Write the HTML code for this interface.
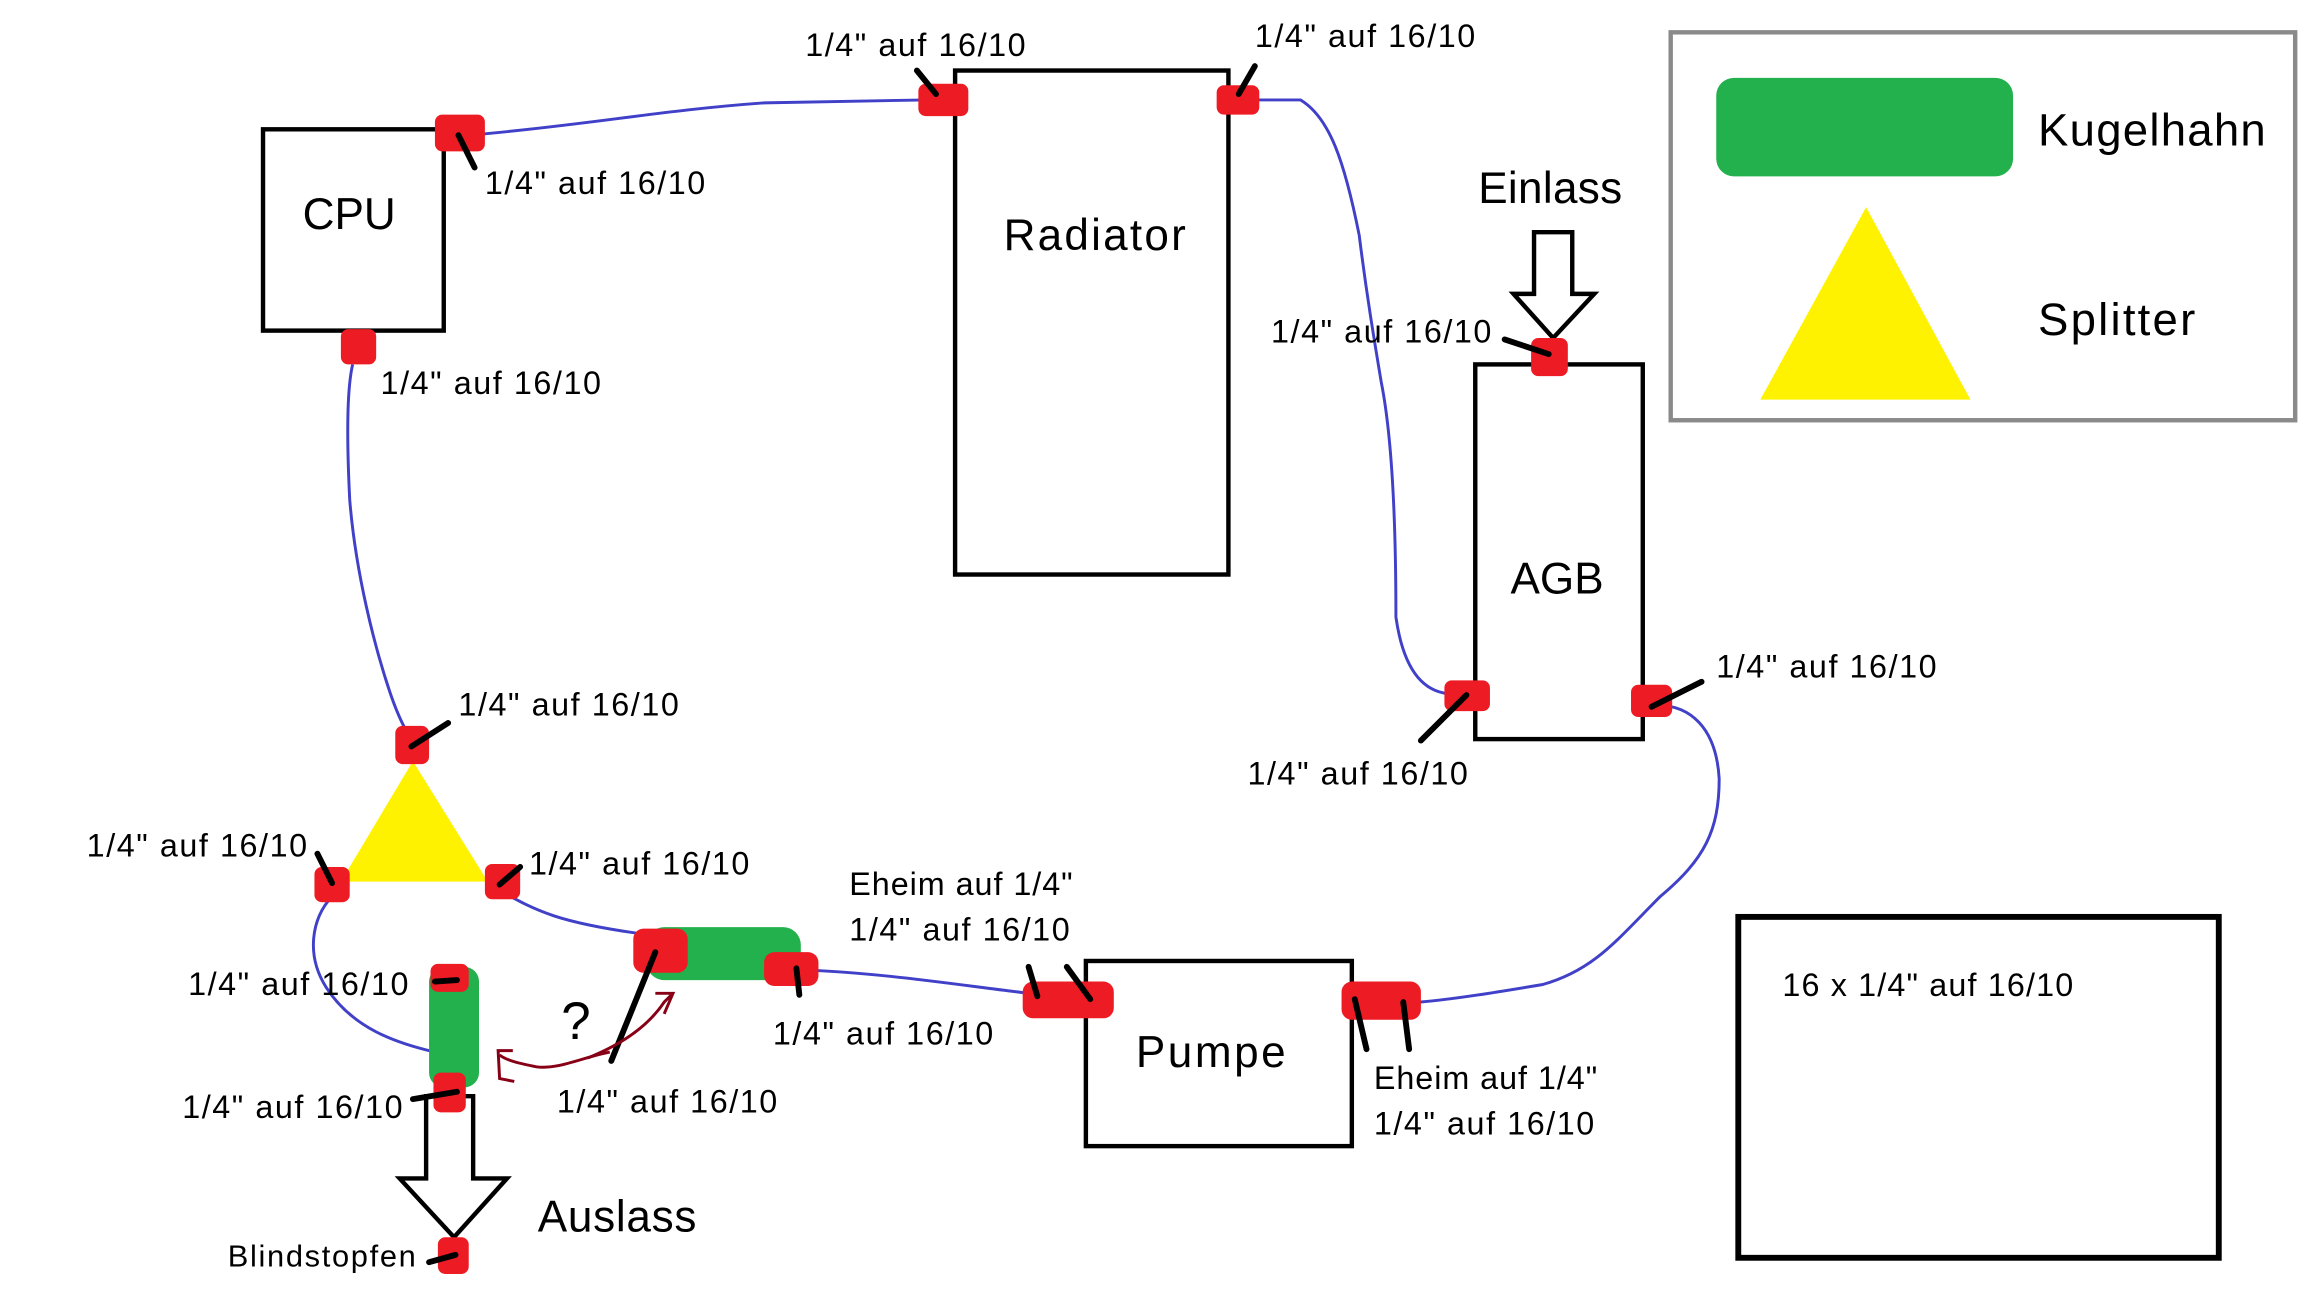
<!DOCTYPE html>
<html><head><meta charset="utf-8"><style>
html,body{margin:0;padding:0;background:#fff;width:2304px;height:1296px;overflow:hidden;}
svg{display:block;}
text{font-family:"Liberation Sans","DejaVu Sans",sans-serif;fill:#000;}
</style></head><body>
<svg width="2304" height="1296" viewBox="0 0 1568 882" xmlns="http://www.w3.org/2000/svg">
<rect width="1568" height="882" fill="#fff"/>
<g fill="none" stroke="#4040c8" stroke-width="2">
<path d="M320,92 C400,85 450,75 520,70 L630,68"/>
<path d="M855,68 L885,68 C905,80 915,110 925,160 C930,200 935,230 940,260 C948,300 950,360 950,420 C955,455 968,470 985,472"/>
<path d="M1128,480 C1150,480 1168,495 1170,530 C1170,565 1160,585 1130,610 C1100,640 1085,660 1050,670 C1020,675 990,680 966,682"/>
<path d="M240,248 C236,265 236,300 238,340 C242,390 255,440 265,470 C270,485 275,495 278,500"/>
<path d="M340,606 C365,620 380,628 440,636"/>
<path d="M545,660 C600,662 650,670 700,676"/>
<path d="M226,610 C212,625 208,650 222,672 C240,700 270,710 296,716"/>
</g>
<g fill="#fff" stroke="#000" stroke-width="3">
<rect x="179" y="88" width="123" height="137"/>
<rect x="650" y="48" width="186" height="343"/>
<rect x="1004" y="248" width="114" height="255"/>
<rect x="739" y="654" width="181" height="126"/>
<rect x="1183" y="624" width="327" height="232" stroke-width="4"/>
</g>
<rect x="1137" y="22" width="425" height="264" fill="none" stroke="#8a8a8a" stroke-width="3"/>
<rect x="1168" y="53" width="202" height="67" rx="12" fill="#22b14c"/>
<polygon points="1270,141 1198,272 1341,272" fill="#fff200"/>
<polygon points="281,518 232,600 332,600" fill="#fff200"/>
<rect x="440" y="631" width="105" height="36" rx="12" fill="#22b14c"/>
<rect x="292" y="658" width="34" height="82" rx="10" fill="#22b14c"/>
<g fill="#fff" stroke="#000" stroke-width="3">
<polygon points="1044,158 1070,158 1070,200 1085,200 1057,230 1030,200 1044,200"/>
<polygon points="290,746 322,746 322,802 345,802 309,842 272,802 290,802"/>
</g>
<g fill="#ed1c24">
<rect x="296" y="78" width="34" height="25" rx="5"/>
<rect x="232" y="224" width="24" height="24" rx="5"/>
<rect x="625" y="57" width="34" height="22" rx="5"/>
<rect x="828" y="58" width="29" height="20" rx="5"/>
<rect x="1042" y="230" width="25" height="26" rx="5"/>
<rect x="983" y="463" width="31" height="21" rx="5"/>
<rect x="1110" y="466" width="28" height="22" rx="5"/>
<rect x="269" y="494" width="23" height="26" rx="5"/>
<rect x="214" y="590" width="24" height="24" rx="5"/>
<rect x="330" y="588" width="24" height="24" rx="5"/>
<rect x="431" y="632" width="37" height="30" rx="7"/>
<rect x="520" y="648" width="37" height="23" rx="7"/>
<rect x="696" y="668" width="62" height="25" rx="7"/>
<rect x="913" y="668" width="54" height="26" rx="7"/>
<rect x="293" y="656" width="26" height="19" rx="5"/>
<rect x="295" y="730" width="22" height="27" rx="5"/>
<rect x="298" y="842" width="21" height="25" rx="5"/>
</g>
<g stroke="#000" stroke-width="4" stroke-linecap="round">
<line x1="312" y1="92" x2="323" y2="114"/>
<line x1="624" y1="48" x2="637" y2="64"/>
<line x1="843" y1="64" x2="854" y2="45"/>
<line x1="1024" y1="231" x2="1054" y2="241"/>
<line x1="998" y1="473" x2="967" y2="504"/>
<line x1="1124" y1="481" x2="1158" y2="464"/>
<line x1="280" y1="508" x2="305" y2="492"/>
<line x1="216" y1="581" x2="226" y2="601"/>
<line x1="340" y1="602" x2="354" y2="590"/>
<line x1="446" y1="648" x2="416" y2="722"/>
<line x1="542" y1="659" x2="544" y2="677"/>
<line x1="700" y1="658" x2="706" y2="678"/>
<line x1="726" y1="658" x2="742" y2="680"/>
<line x1="922" y1="680" x2="930" y2="714"/>
<line x1="955" y1="682" x2="959" y2="714"/>
<line x1="296" y1="668" x2="311" y2="667"/>
<line x1="281" y1="748" x2="311" y2="743"/>
<line x1="292" y1="859" x2="310" y2="854"/>
</g>
<g fill="none" stroke="#880015" stroke-width="2">
<path d="M415,716 C395,720 380,728 365,726 C355,724 345,722 340,718 M349,715 L339,715 L340,734 L350,736"/>
<path d="M400,720 C420,712 440,700 452,682 L458,676 M446,676 L458,676 L452,690"/>
</g>
<g font-size="22">
<text x="548" y="38" textLength="150">1/4" auf 16/10</text>
<text x="854" y="32" textLength="150">1/4" auf 16/10</text>
<text x="330" y="132" textLength="150">1/4" auf 16/10</text>
<text x="259" y="268" textLength="150">1/4" auf 16/10</text>
<text x="865" y="233" textLength="150">1/4" auf 16/10</text>
<text x="1168" y="461" textLength="150">1/4" auf 16/10</text>
<text x="849" y="534" textLength="150">1/4" auf 16/10</text>
<text x="312" y="487" textLength="150">1/4" auf 16/10</text>
<text x="59" y="583" textLength="150">1/4" auf 16/10</text>
<text x="360" y="595" textLength="150">1/4" auf 16/10</text>
<text x="578" y="609" textLength="152">Eheim auf 1/4"</text>
<text x="578" y="640" textLength="150">1/4" auf 16/10</text>
<text x="526" y="711" textLength="150">1/4" auf 16/10</text>
<text x="128" y="677" textLength="150">1/4" auf 16/10</text>
<text x="124" y="761" textLength="150">1/4" auf 16/10</text>
<text x="379" y="757" textLength="150">1/4" auf 16/10</text>
<text x="935" y="741" textLength="152">Eheim auf 1/4"</text>
<text x="935" y="772" textLength="150">1/4" auf 16/10</text>
<text x="1213" y="678" textLength="198">16 x 1/4" auf 16/10</text>
<text x="155" y="862" font-size="21" textLength="128">Blindstopfen</text>
</g>
<g font-size="30">
<text x="206" y="156">CPU</text>
<text x="683" y="170" textLength="124">Radiator</text>
<text x="1028" y="404">AGB</text>
<text x="773" y="726" textLength="102">Pumpe</text>
<text x="1006" y="138" textLength="98">Einlass</text>
<text x="366" y="838" textLength="108">Auslass</text>
<text x="1387" y="99" font-size="31" textLength="155">Kugelhahn</text>
<text x="1387" y="228" font-size="31" textLength="107">Splitter</text>
<text x="382" y="707" font-size="36">?</text>
</g>
</svg>
</body></html>
